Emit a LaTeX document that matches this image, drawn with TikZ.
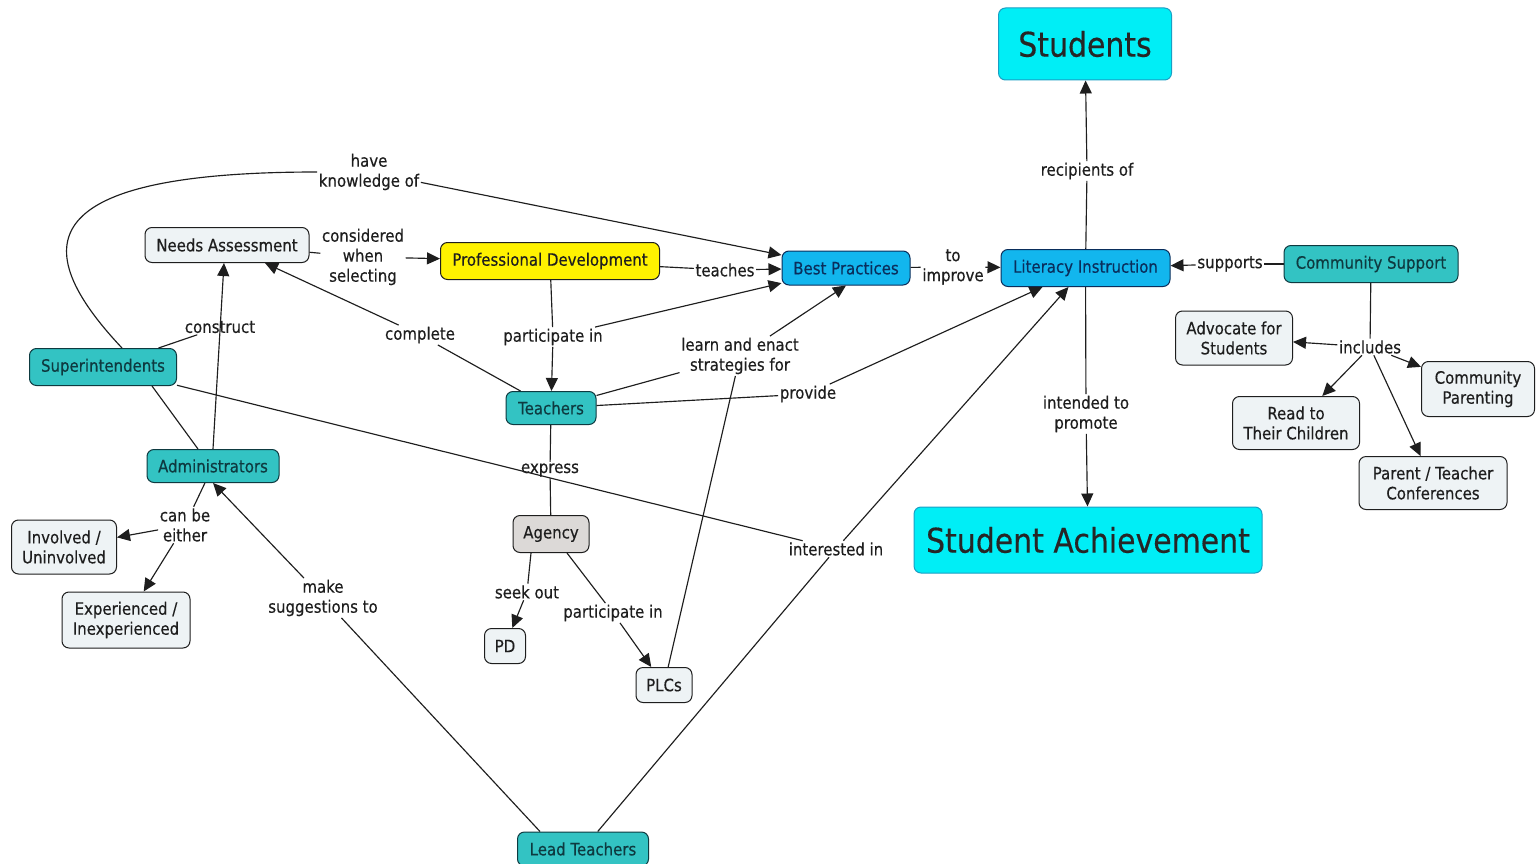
\documentclass[tikz,border=0pt]{standalone}
\usepackage{fontspec}
\setmainfont{DejaVu Sans}[FakeStretch=0.88,FakeBold=0.4]
\usetikzlibrary{arrows.meta}
\definecolor{cyanbox}{HTML}{00EEF6}
\definecolor{cyanline}{HTML}{1A9FC4}
\definecolor{bluebox}{HTML}{12B6EE}
\definecolor{tealbox}{HTML}{33C3C3}
\definecolor{lightbox}{HTML}{EEF3F5}
\definecolor{agencybox}{HTML}{DCD9D7}
\definecolor{ink}{HTML}{1E1E1E}
\definecolor{tealtext}{HTML}{0E3A40}
\definecolor{bluetext}{HTML}{0A2E5C}
\begin{document}
\begin{tikzpicture}[x=1pt,y=-1pt,
 concept/.style={draw=ink, line width=1pt, rounded corners=7pt, align=center, inner sep=2pt, font=\fontsize{17}{20}\selectfont, text=ink},
 lightc/.style={concept, fill=lightbox},
 tealc/.style={concept, fill=tealbox, text=tealtext, draw=tealtext},
 bluec/.style={concept, fill=bluebox, text=bluetext, draw=bluetext},
 bigc/.style={concept, fill=cyanbox, draw=cyanline, font=\fontsize{34}{40}\selectfont, text=black!85},
 lab/.style={align=center, inner sep=1.5pt, font=\fontsize{17}{20}\selectfont, text=ink},
 link/.style={draw=ink, line width=1.15pt},
 arr/.style={link, -{Triangle[length=13pt,width=12pt]}},
 sz/.style 2 args={minimum width=#1pt, minimum height=#2pt}
]
\fill[white] (0,0) rectangle (1536,864);
\useasboundingbox (0,0) rectangle (1536,864);

% concepts
\node[bigc, sz={173}{72}] (stu) at (1085,44) {Students};
\node[bigc, sz={348}{66}] (sa) at (1088,540) {Student Achievement};
\node[bluec, sz={169}{37}] (li) at (1085.5,268) {Literacy Instruction};
\node[bluec, sz={128}{34}] (bp) at (846,268) {Best Practices};
\node[concept, fill=yellow, sz={219}{37}] (pdev) at (550,261) {Professional Development};
\node[lightc, sz={164}{35}] (na) at (227,245) {Needs Assessment};
\node[tealc, sz={147}{37}] (sup) at (103,367) {Superintendents};
\node[tealc, sz={132}{33}] (adm) at (213,466) {Administrators};
\node[tealc, sz={90}{33}] (tea) at (551,408) {Teachers};
\node[concept, fill=agencybox, sz={76}{37}] (ag) at (551,534) {Agency};
\node[lightc, sz={41}{35}] (pd) at (505,646) {PD};
\node[lightc, sz={56}{35}] (plc) at (664,685) {PLCs};
\node[tealc, sz={131}{34}] (lt) at (583,849) {Lead Teachers};
\node[lightc, sz={105}{54}] (inv) at (64,547) {Involved /\\Uninvolved};
\node[lightc, sz={128}{56}] (exp) at (126,620) {Experienced /\\Inexperienced};
\node[tealc, sz={174}{37}] (cs) at (1371,264) {Community Support};
\node[lightc, sz={117}{54}] (adv) at (1234,338) {Advocate for\\Students};
\node[lightc, sz={127}{53}] (rtc) at (1296,423) {Read to\\Their Children};
\node[lightc, sz={113}{55}] (cp) at (1478,389) {Community\\Parenting};
\node[lightc, sz={148}{53}] (ptc) at (1433,483) {Parent / Teacher\\Conferences};

% linking phrases
\node[lab] (hk) at (369,172) {have\\knowledge of};
\node[lab] (cws) at (363,257) {considered\\when\\selecting};
\node[lab] (tch) at (725,270) {teaches};
\node[lab] (ti) at (953,267) {to\\improve};
\node[lab] (con) at (220,327) {construct};
\node[lab] (cmp) at (420,335) {complete};
\node[lab] (pin) at (553,337) {participate in};
\node[lab] (lea) at (740,356) {learn and enact\\strategies for};
\node[lab] (prv) at (808,394) {provide};
\node[lab] (exs) at (550,470) {express};
\node[lab] (int) at (836,549) {interested in};
\node[lab] (cbe) at (185,525) {can be\\either};
\node[lab] (mst) at (323,598) {make\\suggestions to};
\node[lab] (sko) at (527,592) {seek out};
\node[lab] (pin2) at (613,613) {participate in};
\node[lab] (rof) at (1087,171) {recipients of};
\node[lab] (itp) at (1086,414) {intended to\\promote};
\node[lab] (spt) at (1230,264) {supports};
\node[lab] (inc) at (1370,347) {includes};

% connectors
\draw[link] ([xshift=19pt]sup.north) .. controls (25,245) and (35,172) .. (hk.west);
\draw[arr] (hk) -- (bp);
\draw[link] (na) -- (cws);
\draw[arr] (cws) -- (pdev);
\draw[link] (pdev) -- (tch);
\draw[arr] (tch) -- (bp);
\draw[link] (bp) -- (ti);
\draw[arr] (ti) -- (li);
\draw[link] (sup) -- (con);
\draw[arr] (adm.north) -- ([xshift=-3pt]na.south);
\draw[link] (tea) -- (cmp);
\draw[arr] (cmp) -- ([xshift=38pt]na.south);
\draw[link] (pdev) -- (pin);
\draw[arr] (pin) -- (tea);
\draw[arr] (pin) -- (bp);
\draw[link] (tea) -- (lea);
\draw[link] (plc) -- (lea);
\draw[arr] (lea) -- (bp.south);
\draw[link] (tea) -- (prv);
\draw[arr] (prv) -- ([xshift=-43pt]li.south);
\draw[link] (sup) -- (int);
\draw[link] (lt) -- (int);
\draw[arr] (int) -- ([xshift=-17pt]li.south);
\draw[link] ([xshift=-43pt]lt.north) -- (mst);
\draw[arr] (mst) -- (adm.south);
\draw[link] ([xshift=49pt]sup.south) -- ([xshift=-15pt]adm.north);
\draw[link] (adm) -- (cbe);
\draw[arr] (cbe) -- (inv);
\draw[arr] (cbe) -- (exp);
\draw[link] (tea) -- (exs);
\draw[link] (exs) -- (ag);
\draw[link] ([xshift=-20pt]ag.south) -- (sko);
\draw[arr] (sko) -- (pd);
\draw[link] ([xshift=16pt]ag.south) -- (pin2);
\draw[arr] (pin2) -- (plc);
\draw[link] (li) -- (rof);
\draw[arr] (rof) -- (stu);
\draw[link] (li) -- (itp);
\draw[arr] (itp) -- (sa);
\draw[link] (cs) -- (spt);
\draw[arr] (spt) -- (li);
\draw[link] (cs) -- (inc);
\draw[arr] (inc) -- (adv);
\draw[arr] (inc) -- (rtc);
\draw[arr] (inc) -- (cp);
\draw[arr] (inc) -- (ptc);
\end{tikzpicture}
\end{document}
